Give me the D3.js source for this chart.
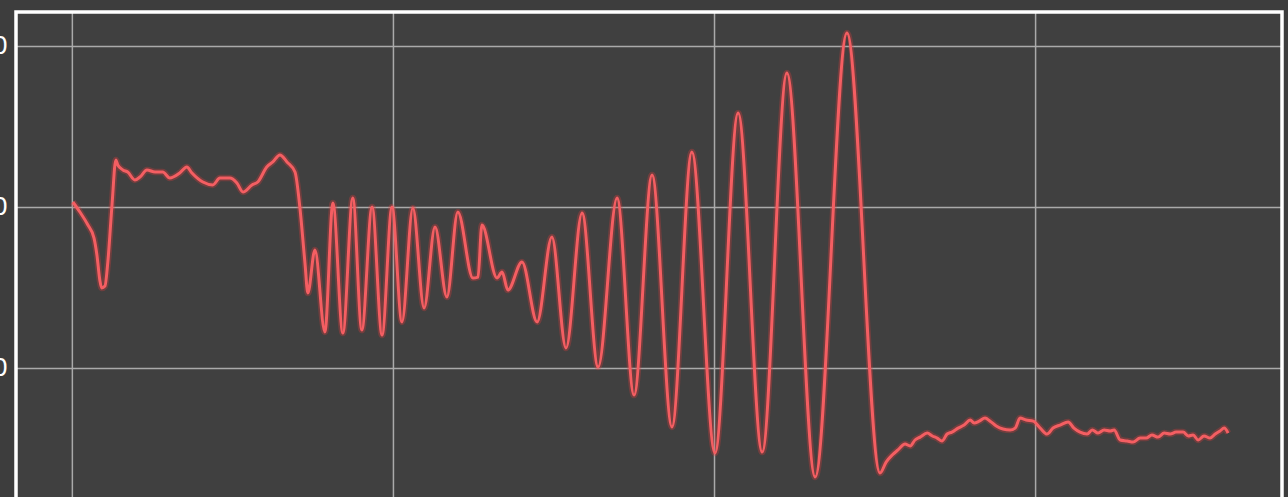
<!DOCTYPE html>
<html>
<head>
<meta charset="utf-8">
<script src="https://cdn.jsdelivr.net/npm/d3@7"></script>
<style>
    html, body { margin: 0; padding: 0; background: #3d3d3d; }
    svg { display: block; }
</style>
</head>
<body>
<div id="chart"></div>
<script>
// Tick values (only the last digit of each y label is visible in the frame)
const xTicks = [0, 100, 200, 300];
const yTicks = [100, 0, -100];

// Signal samples as [t, value]
const leadIn = [
    [0.3, 3.1], [2.5, -3.1], [5.0, -11.2], [6.9, -19.3], [7.8, -29.8], [8.7, -45.3],
    [9.3, -50.3], [10.3, -49.1], [11.2, -34.2], [12.5, 1.2], [13.7, 29.2], [14.3, 26.1],
    [15.9, 23.0], [17.4, 21.7], [19.6, 16.8], [21.2, 18.6], [23.4, 23.0], [25.9, 21.7],
    [28.3, 21.7], [30.5, 18.0], [33.6, 21.1], [35.8, 24.8], [37.4, 21.1], [40.8, 15.5],
    [43.9, 13.7], [46.1, 18.0], [49.2, 18.0], [51.4, 14.9], [53.3, 9.3], [56.1, 13.7],
    [57.9, 15.5], [60.7, 24.8], [62.6, 28.0], [64.8, 32.3], [67.0, 28.0], [69.5, 21.7],
    [71.0, 0], [72.6, -34.8], [73.5, -53.4]
];

const swings = [
    [75.7, -26.7], [78.8, -77.6], [81.3, 2.5], [84.4, -78.3], [87.5, 5.6], [90.3, -76.4],
    [93.5, 0], [96.6, -79.5], [99.7, 0], [102.8, -71.4], [106.2, -0.6], [109.7, -62.7],
    [113.1, -12.4], [116.8, -55.9], [120.2, -3.1], [124.9, -44.1], [126.5, -43.5],
    [127.7, -11.2], [132.4, -44.1], [134.0, -40.4], [135.8, -51.6], [140.2, -34.2],
    [144.9, -71.4], [149.5, -18.6], [153.9, -87.6], [158.9, -3.7], [163.9, -99.4],
    [169.8, 5.6], [175.1, -116.8], [180.7, 19.9], [186.9, -136.6], [193.1, 34.2],
    [200.3, -152.8], [207.5, 58.4], [215.0, -152.2], [222.7, 83.2], [231.5, -167.7],
    [241.4, 108.1]
];

const tail = [
    [251.7, -165.2], [253.6, -158.4], [255.5, -154.0], [257.3, -150.9], [259.5, -147.2],
    [261.1, -148.4], [262.6, -144.7], [264.2, -142.9], [266.4, -140.4], [268.0, -142.2],
    [269.5, -143.5], [271.0, -145.3], [272.6, -141.0], [274.1, -139.8], [276.0, -137.3],
    [277.9, -135.4], [279.8, -132.3], [281.0, -134.2], [282.6, -133.0], [284.4, -131.1],
    [286.0, -133.0], [287.9, -136.0], [290.0, -137.9], [292.2, -138.5], [293.8, -137.3],
    [295.3, -131.1], [297.2, -132.3], [299.4, -133.0], [301.6, -137.3], [303.7, -141.0],
    [305.6, -137.3], [307.8, -135.4], [310.3, -133.5], [312.1, -137.3], [314.0, -139.8],
    [316.2, -141.0], [317.8, -138.5], [319.6, -140.4], [321.5, -138.5], [323.4, -139.1],
    [324.6, -138.5], [326.5, -144.7], [328.7, -145.3], [330.5, -146.0], [332.7, -143.5],
    [334.6, -143.5], [336.4, -141.6], [338.3, -142.9], [340.2, -140.4], [342.1, -141.0],
    [343.9, -139.8], [346.1, -139.8], [347.7, -142.2], [349.2, -141.6], [350.8, -144.7],
    [352.6, -142.2], [354.5, -143.5], [356.1, -141.0], [357.6, -139.1], [358.9, -137.3],
    [360.1, -140.4]
];

const series = leadIn.concat(swings, tail);

const width = 1288, height = 497;
const frame = { left: 16, top: 12, right: 1282, bottom: 497 };

const svg = d3.select('#chart').append('svg')
    .attr('width', width)
    .attr('height', height);

// Visible window of the plot
const x = d3.scaleLinear()
    .domain([-17.4, 376.9])
    .range([frame.left, frame.right]);

const y = d3.scaleLinear()
    .domain([-180.1, 121.1])
    .range([frame.bottom, frame.top]);

svg.append('rect')
    .attr('x', frame.left)
    .attr('y', frame.top)
    .attr('width', frame.right - frame.left)
    .attr('height', frame.bottom - frame.top + 20)
    .attr('fill', '#404040');

const plot = svg.append('g');

// Grid
plot.append('g')
    .attr('transform', `translate(0, ${frame.top})`)
    .call(d3.axisBottom(x).tickValues(xTicks).tickSize(frame.bottom - frame.top + 20).tickFormat(''))
    .call(g => g.select('.domain').remove())
    .call(g => g.selectAll('line').attr('stroke', '#aaaaaa').attr('stroke-width', 1.5));

plot.append('g')
    .attr('transform', `translate(${frame.left}, 0)`)
    .call(d3.axisRight(y).tickValues(yTicks).tickSize(frame.right - frame.left).tickFormat(''))
    .call(g => g.select('.domain').remove())
    .call(g => g.selectAll('line').attr('stroke', '#aaaaaa').attr('stroke-width', 1.5));

// Y labels, mostly clipped by the window edge
svg.append('g')
    .attr('transform', 'translate(8, 0)')
    .call(d3.axisLeft(y).tickValues(yTicks).tickSize(0).tickPadding(0).tickFormat(d3.format('d')))
    .call(g => g.select('.domain').remove())
    .call(g => g.selectAll('text')
        .attr('fill', '#ffffff')
        .attr('font-family', 'DejaVu Sans, sans-serif')
        .attr('font-size', 24));

const line = d3.line()
    .x(d => x(d[0]))
    .y(d => y(d[1]))
    .curve(d3.curveMonotoneX);

plot.append('path')
    .datum(series)
    .attr('fill', 'none')
    .attr('stroke', 'rgba(230, 60, 60, 0.3)')
    .attr('stroke-width', 6.5)
    .attr('stroke-linejoin', 'round')
    .attr('d', line);

plot.append('path')
    .datum(series)
    .attr('fill', 'none')
    .attr('stroke', '#f45e62')
    .attr('stroke-width', 3)
    .attr('stroke-linejoin', 'round')
    .attr('d', line);

// Frame border
svg.append('rect')
    .attr('x', frame.left)
    .attr('y', frame.top)
    .attr('width', frame.right - frame.left)
    .attr('height', frame.bottom - frame.top + 20)
    .attr('fill', 'none')
    .attr('stroke', '#ffffff')
    .attr('stroke-width', 3.5);
</script>
</body>
</html>
